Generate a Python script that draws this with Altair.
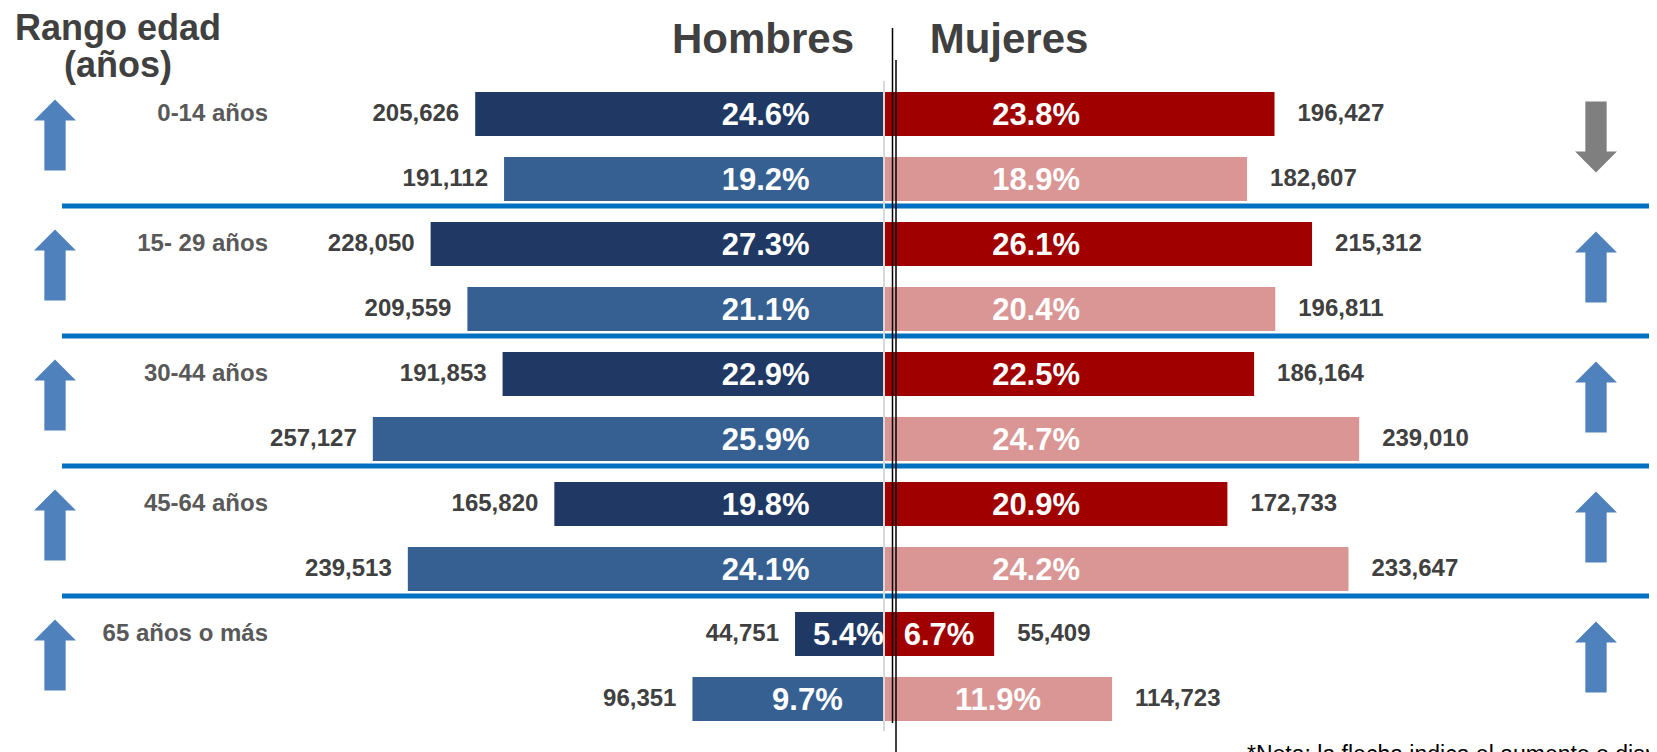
import altair as alt
import pandas as pd

# ---------------- data ----------------
ages = ["0-14 años", "15- 29 años", "30-44 años", "45-64 años", "65 años o más"]
periods = ["p1", "p2"]
hombres_p1 = [205626, 228050, 191853, 165820, 44751]
hombres_p2 = [191112, 209559, 257127, 239513, 96351]
mujeres_p1 = [196427, 215312, 186164, 172733, 55409]
mujeres_p2 = [182607, 196811, 239010, 233647, 114723]
pct_h_p1 = ["24.6%", "27.3%", "22.9%", "19.8%", "5.4%"]
pct_h_p2 = ["19.2%", "21.1%", "25.9%", "24.1%", "9.7%"]
pct_m_p1 = ["23.8%", "26.1%", "22.5%", "20.9%", "6.7%"]
pct_m_p2 = ["18.9%", "20.4%", "24.7%", "24.2%", "11.9%"]
flecha_h = ["sube", "sube", "sube", "sube", "sube"]
flecha_m = ["baja", "sube", "sube", "sube", "sube"]
titulos = ["Rango edad", "(años)"]
sexos = ["Hombres", "Mujeres"]
nota = "*Nota: la flecha indica el aumento o disminución de la población"

# ---------------- tables ----------------
rows = [f"{a} | {p}" for a in ages for p in periods]
recs = []
series = {
    ("H", "p1"): (hombres_p1, pct_h_p1),
    ("H", "p2"): (hombres_p2, pct_h_p2),
    ("M", "p1"): (mujeres_p1, pct_m_p1),
    ("M", "p2"): (mujeres_p2, pct_m_p2),
}
for (sx, p), (vals, pcts) in series.items():
    for a, v, pc in zip(ages, vals, pcts):
        recs.append({"row": f"{a} | {p}", "sexo": sx, "serie": sx + p,
                     "valor": v, "signed": -v if sx == "H" else v, "pct": pc})
df = pd.DataFrame(recs)

arr = []
for a, fh, fm in zip(ages, flecha_h, flecha_m):
    arr.append({"row": f"{a} | p1", "lado": "izq", "dir": fh})
    arr.append({"row": f"{a} | p1", "lado": "der", "dir": fm})
arrows = pd.DataFrame(arr)

cats = pd.DataFrame({"row": [f"{a} | p1" for a in ages], "edad": ages})
seps = pd.DataFrame({"row": [f"{a} | p2" for a in ages[:-1]]})

# ---------------- layout ----------------
W, H = 1641, 744
zero_px = 876
upp = 503.0
xscale = alt.Scale(domain=[-zero_px * upp, (W - zero_px) * upp], nice=False, zero=False)
yscale = alt.Scale(domain=rows, range=[84, 713], paddingInner=0.323, paddingOuter=0)
FONT = "Liberation Sans"

X = alt.X("signed:Q", scale=xscale, axis=None)
Y = alt.Y("row:N", scale=yscale, axis=None)

base = alt.Chart(df)

bars = base.mark_bar().encode(
    x=X, y=Y,
    color=alt.Color("serie:N", legend=None,
                    scale=alt.Scale(domain=["Hp1", "Hp2", "Mp1", "Mp2"],
                                    range=["#203864", "#376092", "#A00000", "#DA9694"])),
)

seplines = alt.Chart(seps).mark_rule(color="#0070C0", strokeWidth=5, yOffset=5).encode(
    y=alt.Y("row:N", scale=yscale, axis=None, bandPosition=1),
    x=alt.value(54), x2=alt.value(W),
)

zero_df = pd.DataFrame({"z": [0]})
grayline = alt.Chart(zero_df).mark_rule(color="#D9D9D9", strokeWidth=2).encode(
    x=alt.X("z:Q", scale=xscale, axis=None), y=alt.value(73), y2=alt.value(723))
blk1 = alt.Chart(zero_df).mark_rule(color="#000000", strokeWidth=1.5, xOffset=8.5).encode(
    x=alt.X("z:Q", scale=xscale, axis=None), y=alt.value(20), y2=alt.value(715))
blk2 = alt.Chart(zero_df).mark_rule(color="#000000", strokeWidth=1.5, xOffset=12).encode(
    x=alt.X("z:Q", scale=xscale, axis=None), y=alt.value(52), y2=alt.value(H))

num_h = base.transform_filter(alt.datum.sexo == "H").mark_text(
    align="right", baseline="middle", dx=-16, font=FONT, fontSize=24, fontWeight="bold", color="#404040"
).encode(x=X, y=Y, text=alt.Text("valor:Q", format=","))
num_m = base.transform_filter(alt.datum.sexo == "M").mark_text(
    align="left", baseline="middle", dx=23, font=FONT, fontSize=24, fontWeight="bold", color="#404040"
).encode(x=X, y=Y, text=alt.Text("valor:Q", format=","))

pct = base.transform_calculate(
    pos="datum.sexo == 'H' ? -min(datum.valor * 0.4, 59500) : min(datum.valor / 2, 76500)"
).mark_text(align="center", baseline="middle", dy=2, font=FONT, fontSize=31, fontWeight="bold",
            color="white").encode(
    x=alt.X("pos:Q", scale=xscale, axis=None), y=Y, text="pct:N")

UP = "M0,-1L0.59,-0.41L0.3,-0.41L0.3,1L-0.3,1L-0.3,-0.41L-0.59,-0.41Z"
DOWN = "M0,1L0.59,0.41L0.3,0.41L0.3,-1L-0.3,-1L-0.3,0.41L-0.59,0.41Z"
shape_enc = alt.Shape("dir:N", scale=alt.Scale(domain=["sube", "baja"], range=[UP, DOWN]), legend=None)
fill_enc = alt.condition(alt.datum.dir == "baja", alt.value("#7F7F7F"), alt.value("#4F81BD"))
arr_l = alt.Chart(arrows).transform_filter(alt.datum.lado == "izq").mark_point(
    filled=True, size=5041, opacity=1, strokeWidth=0, yOffset=21).encode(
    x=alt.value(47), y=alt.Y("row:N", scale=yscale, axis=None), shape=shape_enc, fill=fill_enc)
arr_r = alt.Chart(arrows).transform_filter(alt.datum.lado == "der").mark_point(
    filled=True, size=5041, opacity=1, strokeWidth=0, yOffset=23).encode(
    x=alt.value(1588), y=alt.Y("row:N", scale=yscale, axis=None), shape=shape_enc, fill=fill_enc)

catlab = alt.Chart(cats).mark_text(
    align="right", baseline="middle", font=FONT, fontSize=24, fontWeight="bold", color="#595959"
).encode(x=alt.value(260), y=alt.Y("row:N", scale=yscale, axis=None), text="edad:N")

t1 = alt.Chart(pd.DataFrame({"t": [titulos[0]]})).mark_text(
    align="center", baseline="alphabetic", font=FONT, fontSize=36, fontWeight="bold", color="#404040"
).encode(x=alt.value(110), y=alt.value(32), text="t:N")
t2 = alt.Chart(pd.DataFrame({"t": [titulos[1]]})).mark_text(
    align="center", baseline="alphabetic", font=FONT, fontSize=36, fontWeight="bold", color="#404040"
).encode(x=alt.value(110), y=alt.value(69), text="t:N")
th = alt.Chart(pd.DataFrame({"t": [sexos[0]]})).mark_text(
    align="center", baseline="alphabetic", font=FONT, fontSize=42, fontWeight="bold", color="#404040"
).encode(x=alt.value(755), y=alt.value(45), text="t:N")
tm = alt.Chart(pd.DataFrame({"t": [sexos[1]]})).mark_text(
    align="center", baseline="alphabetic", font=FONT, fontSize=42, fontWeight="bold", color="#404040"
).encode(x=alt.value(1001), y=alt.value(45), text="t:N")
tn = alt.Chart(pd.DataFrame({"t": [nota]})).mark_text(
    align="left", baseline="top", font=FONT, fontSize=23, color="#000000"
).encode(x=alt.value(1239), y=alt.value(736), text="t:N")

chart = alt.layer(
    bars, seplines, grayline, blk1, blk2, num_h, num_m, pct, arr_l, arr_r, catlab, t1, t2, th, tm, tn
).properties(
    width=W, height=H, autosize=alt.AutoSizeParams(type="none"), padding=0
).configure_view(stroke=None)

chart.save("out.html", embed_options={"renderer": "svg", "actions": False})
